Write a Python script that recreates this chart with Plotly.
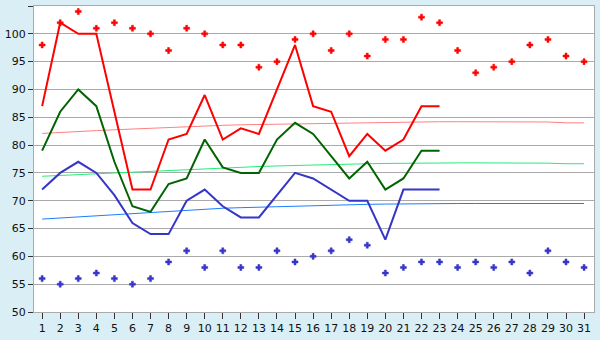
import plotly.graph_objects as go

days = list(range(1, 32))
days_obs = list(range(1, 24))

high = [87, 102, 100, 100, 86, 72, 72, 81, 82, 89, 81, 83, 82, 90, 98, 87, 86, 78, 82, 79, 81, 87, 87]
mean = [79, 86, 90, 87, 77, 69, 68, 73, 74, 81, 76, 75, 75, 81, 84, 82, 78, 74, 77, 72, 74, 79, 79]
low = [72, 75, 77, 75, 71, 66, 64, 64, 70, 72, 69, 67, 67, 71, 75, 74, 72, 70, 70, 63, 72, 72, 72]

record_high = [98, 102, 104, 101, 102, 101, 100, 97, 101, 100, 98, 98, 94, 95, 99, 100,
               97, 100, 96, 99, 99, 103, 102, 97, 93, 94, 95, 98, 99, 96, 95]
record_low = [56, 55, 56, 57, 56, 55, 56, 59, 61, 58, 61, 58, 58, 61, 59, 60,
              61, 63, 62, 57, 58, 59, 59, 58, 59, 58, 59, 57, 61, 59, 58]

normal_high = [82.1, 82.3, 82.45, 82.6, 82.75, 82.9, 83.05, 83.2, 83.3, 83.45, 83.55,
               83.65, 83.7, 83.8, 83.85, 83.9, 84.0, 84.05, 84.1, 84.15, 84.2,
               84.2, 84.2, 84.2, 84.2, 84.2, 84.2, 84.2, 84.15, 84.0, 84.0]
normal_mean = [74.4, 74.55, 74.7, 74.85, 75.0, 75.15, 75.3, 75.5, 75.65, 75.8, 75.95,
               76.05, 76.15, 76.25, 76.35, 76.45, 76.55, 76.6, 76.65, 76.7, 76.75,
               76.8, 76.8, 76.8, 76.8, 76.8, 76.8, 76.8, 76.75, 76.65, 76.65]
normal_low = [66.7, 66.9, 67.1, 67.3, 67.5, 67.7, 67.9, 68.1, 68.3, 68.5, 68.65,
              68.75, 68.85, 68.95, 69.05, 69.15, 69.25, 69.3, 69.35, 69.4, 69.45,
              69.5, 69.5, 69.5, 69.5, 69.5, 69.5, 69.5, 69.5, 69.5, 69.5]

y_ticks = list(range(50, 106, 5))

fig = go.Figure()

for vals, col in [(normal_high, "#ff8080"), (normal_mean, "#22ee77"), (normal_low, "#1a80ff")]:
    fig.add_trace(go.Scatter(x=days, y=vals, mode="lines",
                             line=dict(color=col, width=1), hoverinfo="skip"))

for vals, col in [(high, "#ff0000"), (mean, "#006400"), (low, "#3535c8")]:
    fig.add_trace(go.Scatter(x=days_obs, y=vals, mode="lines",
                             line=dict(color=col, width=2)))

fig.add_trace(go.Scatter(x=days, y=record_high, mode="markers",
                         marker=dict(symbol="cross", size=5, color="#ff0000",
                                     line=dict(width=0.5, color="#ff0000"))))
fig.add_trace(go.Scatter(x=days, y=record_low, mode="markers",
                         marker=dict(symbol="cross", size=5, color="#3535c8",
                                     line=dict(width=0.5, color="#3535c8"))))

fig.update_layout(
    width=600, height=340,
    margin=dict(l=27, r=5, t=5, b=20),
    paper_bgcolor="#d9eff5",
    plot_bgcolor="#ffffff",
    showlegend=False,
    font=dict(family="DejaVu Sans", size=11, color="#111111"),
)
fig.update_xaxes(
    range=[0.55, 31.55], tickmode="array", tickvals=days,
    ticktext=[str(d) for d in days],
    showgrid=False, zeroline=False,
    showline=True, linecolor="#aaaaaa", linewidth=1, mirror=True,
    ticks="outside", ticklen=6, tickcolor="#333333",
)
fig.update_yaxes(
    range=[50, 105], tickmode="array", tickvals=y_ticks,
    showgrid=True, gridcolor="#aaaaaa", gridwidth=1, zeroline=False,
    showline=True, linecolor="#aaaaaa", linewidth=1, mirror=True,
    ticks="outside", ticklen=5, tickcolor="#333333",
)

fig.write_html("out.html")
